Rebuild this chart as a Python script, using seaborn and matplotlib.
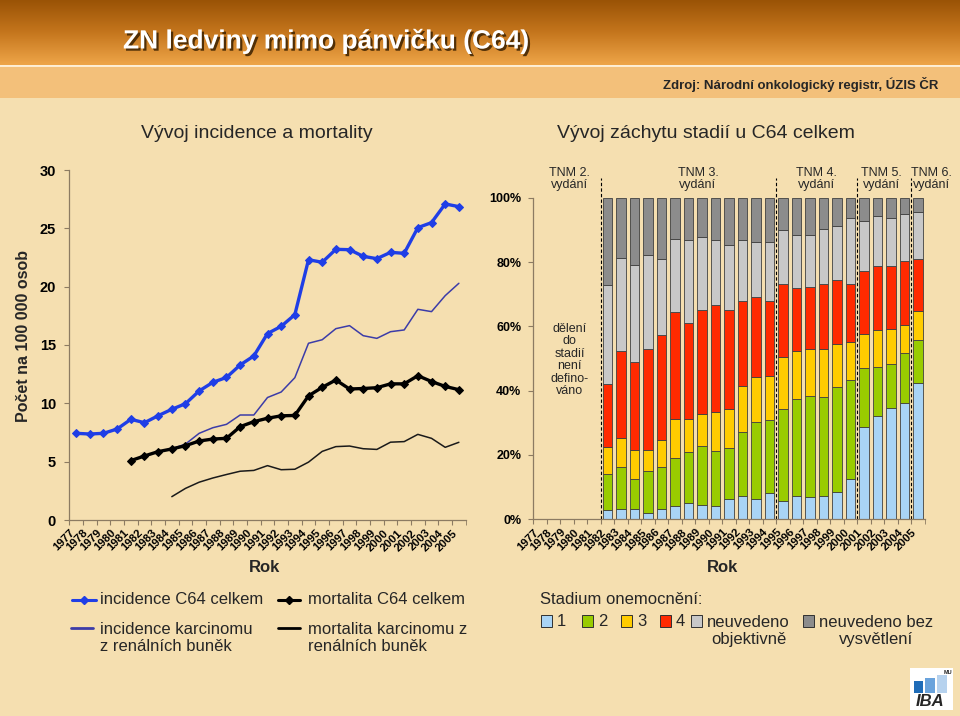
import numpy as np
import pandas as pd
import matplotlib
matplotlib.use("Agg")
import matplotlib.pyplot as plt
import matplotlib.patheffects as pe
import seaborn as sns
from matplotlib.patches import Rectangle
from matplotlib.colors import LinearSegmentedColormap
from matplotlib.ticker import PercentFormatter

# ---- DATA ----
years = list(range(1977, 2006))
mort_years = list(range(1981, 2006))
rcc_years = list(range(1984, 2006))
stage_years = list(range(1982, 2006))

# incidence / mortality per 100 000
inc_c64 = [7.43, 7.37, 7.43, 7.80, 8.63, 8.34, 8.94, 9.49, 9.97, 11.06, 11.80, 12.22,
           13.29, 14.06, 15.98, 16.60, 17.60, 22.31, 22.09, 23.20, 23.17, 22.60, 22.40,
           22.94, 22.86, 25.06, 25.49, 27.09, 26.86]
mort_c64 = [5.09, 5.49, 5.86, 6.09, 6.37, 6.77, 6.94, 7.00, 8.00, 8.43, 8.72, 8.93, 8.96,
            10.64, 11.37, 12.00, 11.23, 11.27, 11.34, 11.67, 11.67, 12.37, 11.87, 11.45, 11.17]
inc_rcc = [6.10, 6.51, 7.43, 7.91, 8.20, 9.00, 9.00, 10.50, 10.97, 12.20, 15.15, 15.45,
           16.40, 16.66, 15.80, 15.57, 16.14, 16.29, 18.06, 17.86, 19.23, 20.29]
mort_rcc = [2.00, 2.71, 3.24, 3.60, 3.90, 4.18, 4.25, 4.66, 4.31, 4.35, 4.96, 5.88, 6.29,
            6.34, 6.11, 6.05, 6.67, 6.72, 7.34, 7.00, 6.23, 6.66]

# stage shares in %
st1 = [2.9, 3.2, 3.1, 1.9, 3.1, 4.0, 5.0, 4.6, 4.0, 6.2, 7.3, 6.2, 8.1, 5.8, 7.3, 6.8,
       7.3, 8.6, 12.6, 28.8, 32.0, 34.7, 36.1, 42.5]
st2 = [11.1, 13.1, 9.5, 13.0, 13.2, 15.0, 15.9, 18.1, 17.2, 16.1, 19.7, 24.1, 22.8, 28.6,
       30.2, 31.5, 30.6, 32.5, 30.7, 18.1, 15.5, 13.7, 15.5, 13.3]
st3 = [8.6, 8.9, 9.0, 6.7, 8.5, 12.1, 10.2, 10.1, 12.2, 12.0, 14.5, 13.8, 13.7, 16.2,
       14.8, 14.5, 14.9, 13.4, 11.7, 10.6, 11.3, 10.7, 8.9, 9.1]
st4 = [19.5, 27.2, 27.2, 31.4, 32.5, 33.5, 30.0, 32.3, 33.1, 30.8, 26.3, 25.1, 23.2, 22.6,
       19.6, 19.5, 20.4, 19.9, 18.2, 19.7, 20.0, 19.7, 19.8, 15.9]
st_obj = [30.7, 28.9, 30.2, 29.1, 23.5, 22.6, 25.7, 22.6, 20.3, 20.2, 19.0, 17.1, 18.3,
          16.7, 16.5, 16.1, 17.2, 16.8, 20.4, 15.6, 15.6, 14.8, 14.5, 14.8]
st_unk = [27.2, 18.7, 21.0, 17.9, 19.2, 12.8, 13.2, 12.3, 13.2, 14.7, 13.2, 13.7, 13.9,
          10.1, 11.6, 11.6, 9.6, 8.8, 6.4, 7.2, 5.6, 6.4, 5.2, 4.4]

stage_names = ['1', '2', '3', '4', 'neuvedeno\nobjektivně', 'neuvedeno bez\nvysvětlení']
stage_colors = ['#a9d4f5', '#99cc00', '#ffcc00', '#ff2a00', '#c8c8c8', '#8c8c8c']

# TNM editions: boundaries (between years) and labels
tnm_bounds = [1981.5, 1994.5, 2000.5, 2004.5]
tnm_labels = ['TNM 2.\nvydání', 'TNM 3.\nvydání', 'TNM 4.\nvydání', 'TNM 5.\nvydání', 'TNM 6.\nvydání']
tnm_label_x = [1979.2, 1988.7, 1997.5, 2002.3, 2006.0]

# ---- STYLE ----
sns.set_style("ticks")
plt.rcParams['font.family'] = ['Liberation Sans', 'DejaVu Sans']
bg_col = '#f5dfb0'
axis_col = '#8c7b62'

fig = plt.figure(figsize=(9.6, 7.16), dpi=100, facecolor=bg_col)

# background / page decoration in pixel coordinates
bg = fig.add_axes([0, 0, 1, 1])
bg.set_facecolor(bg_col)
cmap = LinearSegmentedColormap.from_list('hdr', ['#9a5306', '#c5761d', '#eea548'])
bg.imshow(np.linspace(0, 1, 100).reshape(-1, 1), extent=[0, 960, 65, 0], aspect='auto', cmap=cmap)
bg.add_patch(Rectangle((0, 66), 960, 32, color='#f3c07a', lw=0))
bg.plot([0, 960], [65.5, 65.5], color='#fff1da', lw=1.3)
bg.set_xlim(0, 960)
bg.set_ylim(716, 0)
bg.axis('off')

bg.text(123, 41, 'ZN ledviny mimo pánvičku (C64)', color='white', fontsize=19,
        weight='bold', va='center',
        path_effects=[pe.withSimplePatchShadow(offset=(1.6, -1.6), shadow_rgbFace='#3a2000',
                                               alpha=0.85)])
bg.text(938, 84, 'Zdroj: Národní onkologický registr, ÚZIS ČR', ha='right', va='center',
        fontsize=9.5, weight='bold')
bg.text(257, 133, 'Vývoj incidence a mortality', ha='center', va='center', fontsize=14)
bg.text(706, 133, 'Vývoj záchytu stadií u C64 celkem', ha='center', va='center', fontsize=14)
bg.text(24, 336, 'Počet na 100 000 osob', rotation=90, ha='center', va='center',
        fontsize=11.5, weight='bold')
bg.text(265, 568, 'Rok', ha='center', va='center', fontsize=12, weight='bold')
bg.text(722, 568, 'Rok', ha='center', va='center', fontsize=12, weight='bold')


def style_axes(ax):
    ax.set_facecolor('none')
    for s in ['top', 'right']:
        ax.spines[s].set_visible(False)
    for s in ['left', 'bottom']:
        ax.spines[s].set_color(axis_col)
        ax.spines[s].set_linewidth(0.9)
    ax.tick_params(colors='black', length=3.5, width=0.8, color=axis_col)
    ax.set_xlim(years[0] - 0.5, years[-1] + 0.5)
    ax.set_xticks([y - 0.5 for y in years])
    ax.set_xticklabels([str(y) for y in years], rotation=45, ha='right',
                       rotation_mode='anchor', fontsize=8.2, weight='bold')
    ax.set_xticks([years[-1] + 0.5], minor=True)
    ax.tick_params(axis='x', which='both', length=3.5, color=axis_col, pad=2)
    ax.set_xlabel('')
    ax.set_ylabel('')


# ---- LEFT: incidence and mortality lines ----
ax1 = fig.add_axes([69.3 / 960, (716 - 520) / 716, 396.4 / 960, 350 / 716])
sns.lineplot(x=rcc_years, y=mort_rcc, ax=ax1, color='#1a1a1a', lw=1.1)
sns.lineplot(x=rcc_years, y=inc_rcc, ax=ax1, color='#3c3ca8', lw=1.1)
sns.lineplot(x=mort_years, y=mort_c64, ax=ax1, color='black', lw=2.4,
             marker='D', markersize=4.5, markeredgecolor='black')
sns.lineplot(x=years, y=inc_c64, ax=ax1, color='#1f3ee6', lw=2.4,
             marker='D', markersize=4.5, markeredgecolor='#1f3ee6')
style_axes(ax1)
ax1.set_ylim(0, 30)
ax1.set_yticks(range(0, 31, 5))
ax1.tick_params(axis='y', labelsize=10.5, pad=6)
for t in ax1.get_yticklabels():
    t.set_fontweight('bold')

# ---- RIGHT: stage structure stacked bars ----
ax2 = fig.add_axes([533.3 / 960, (716 - 519.3) / 716, 391.5 / 960, 321.6 / 716])
stages = pd.DataFrame({n: v for n, v in zip(stage_names, [st1, st2, st3, st4, st_obj, st_unk])},
                      index=stage_years)
bottom = np.zeros(len(stage_years))
for name, col in zip(stage_names, stage_colors):
    ax2.bar(stages.index, stages[name], bottom=bottom, width=0.72, color=col,
            edgecolor='#404040', linewidth=0.6)
    bottom = bottom + stages[name].values
style_axes(ax2)
ax2.set_ylim(0, 100)
ax2.set_yticks(range(0, 101, 20))
ax2.yaxis.set_major_formatter(PercentFormatter(100, decimals=0))
ax2.tick_params(axis='y', labelsize=9, pad=5)
for t in ax2.get_yticklabels():
    t.set_fontweight('bold')

for b in tnm_bounds:
    ax2.plot([b, b], [0, 106], ls='--', color='black', lw=0.8, clip_on=False,
             dashes=(3, 2))
for x, lab in zip(tnm_label_x, tnm_labels):
    ax2.text(x, 105.8, lab, ha='center', va='center', fontsize=9, linespacing=1.0,
             clip_on=False)
ax2.text(1979.2, 49.5, 'dělení\ndo\nstadií\nnení\ndefino-\nváno', ha='center',
         va='center', fontsize=9, linespacing=1.05)

# ---- LEGENDS (drawn in page coordinates) ----
bg.plot([72, 96], [600, 600], color='#1f3ee6', lw=2.2)
bg.plot([84], [600], marker='D', markersize=4.5, color='#1f3ee6')
bg.text(100, 600, 'incidence C64 celkem', va='center', fontsize=12)
bg.plot([278, 300], [600, 600], color='black', lw=2.2)
bg.plot([289], [600], marker='D', markersize=4.5, color='black')
bg.text(308, 600, 'mortalita C64 celkem', va='center', fontsize=12)
bg.plot([71, 93], [628, 628], color='#3c3ca8', lw=2.0)
bg.text(100, 638, 'incidence karcinomu\nz renálních buněk', va='center', fontsize=12,
        linespacing=1.2)
bg.plot([278, 300], [628, 628], color='black', lw=2.0)
bg.text(308, 638, 'mortalita karcinomu z\nrenálních buněk', va='center', fontsize=12,
        linespacing=1.2)

bg.text(540, 600, 'Stadium onemocnění:', va='center', fontsize=12)
leg_x = [541, 582, 621, 660, 691, 803]
for x, name, col in zip(leg_x, stage_names, stage_colors):
    bg.add_patch(Rectangle((x, 615), 11, 12, facecolor=col, edgecolor='#303030', lw=0.7))
    if '\n' in name:
        bg.text(x + 16, 631, name, va='center', ha='left', fontsize=12,
                multialignment='center', linespacing=1.2)
    else:
        bg.text(x + 16, 621, name, va='center', ha='left', fontsize=12)

# IBA logo
bg.add_patch(Rectangle((910, 668), 43, 42, facecolor='white', edgecolor='none'))
bg.add_patch(Rectangle((914, 681), 9, 12, facecolor='#1f6cb8', edgecolor='none'))
bg.add_patch(Rectangle((925, 678), 10, 15, facecolor='#6aa3dc', edgecolor='none'))
bg.add_patch(Rectangle((937, 675), 10, 18, facecolor='#b6d2ee', edgecolor='none'))
bg.text(948, 672, 'MU', fontsize=4, weight='bold', ha='center', va='center')
bg.text(930, 701, 'IBA', fontsize=12, weight='bold', style='italic', ha='center', va='center')

fig.savefig('out.png', dpi=100, facecolor=fig.get_facecolor())
